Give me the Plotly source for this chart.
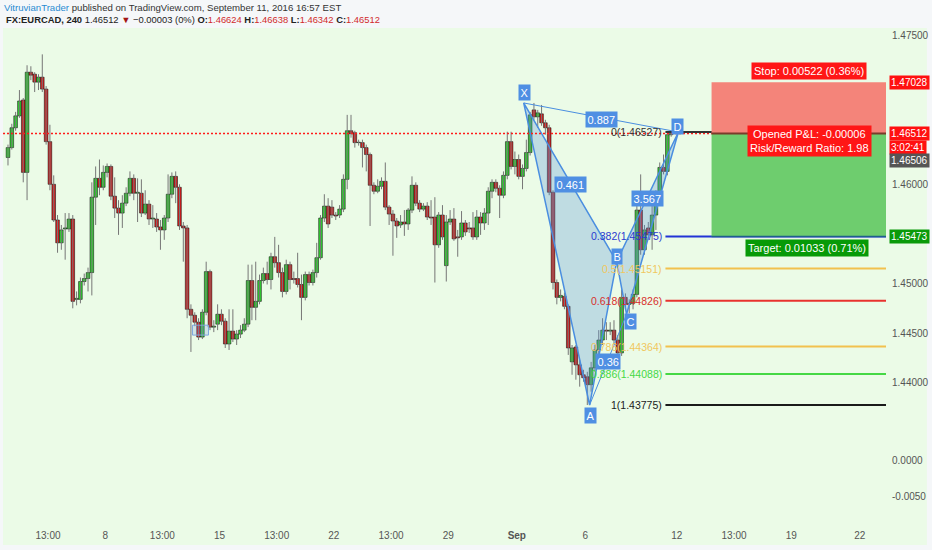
import plotly.graph_objects as go

# ---------------- data (EURCAD 240 min candles) ----------------
bar_open = [1.4627, 1.4637, 1.4657, 1.4669, 1.4685, 1.4612, 1.4713, 1.4711, 1.4703, 1.4708,
            1.4696, 1.4643, 1.4600, 1.4564, 1.4541, 1.4555, 1.4555, 1.4565, 1.4484, 1.4484,
            1.4502, 1.4505, 1.4511, 1.4587, 1.4606, 1.4597, 1.4612, 1.4618, 1.4588, 1.4576,
            1.4571, 1.4581, 1.4591, 1.4606, 1.4591, 1.4591, 1.4571, 1.4580, 1.4565, 1.4565,
            1.4557, 1.4554, 1.4566, 1.4590, 1.4608, 1.4597, 1.4558, 1.4556, 1.4474, 1.4468,
            1.4461, 1.4446, 1.4471, 1.4512, 1.4456, 1.4459, 1.4469, 1.4462, 1.4439, 1.4452,
            1.4444, 1.4449, 1.4453, 1.4459, 1.4503, 1.4476, 1.4482, 1.4503, 1.4510, 1.4504,
            1.4527, 1.4521, 1.4511, 1.4492, 1.4519, 1.4505, 1.4505, 1.4499, 1.4486, 1.4509,
            1.4501, 1.4511, 1.4526, 1.4566, 1.4578, 1.4577, 1.4569, 1.4569, 1.4575, 1.4605,
            1.4654, 1.4652, 1.4642, 1.4642, 1.4637, 1.4630, 1.4599, 1.4593, 1.4598, 1.4603,
            1.4577, 1.4570, 1.4563, 1.4559, 1.4562, 1.4560, 1.4574, 1.4599, 1.4581, 1.4575,
            1.4578, 1.4567, 1.4567, 1.4539, 1.4569, 1.4518, 1.4562, 1.4565, 1.4547, 1.4547,
            1.4561, 1.4556, 1.4556, 1.4547, 1.4567, 1.4561, 1.4571, 1.4593, 1.4602, 1.4596,
            1.4589, 1.4609, 1.4643, 1.4618, 1.4625, 1.4608, 1.4616, 1.4632, 1.4675, 1.4668,
            1.4671, 1.4662, 1.4657, 1.4592, 1.4501, 1.4486, 1.4487, 1.4477, 1.4421, 1.4436,
            1.4418, 1.4408, 1.4406, 1.4398, 1.4415, 1.4433, 1.4443, 1.4453, 1.4452, 1.4453,
            1.4443, 1.4430, 1.4486, 1.4479, 1.4480, 1.4489, 1.4574, 1.4534, 1.4556, 1.4549,
            1.4569, 1.4589, 1.4617, 1.4613, 1.4650]
bar_high = [1.4640, 1.4661, 1.4673, 1.4695, 1.4687, 1.4720, 1.4719, 1.4713, 1.4711, 1.4731,
            1.4699, 1.4660, 1.4609, 1.4569, 1.4559, 1.4571, 1.4571, 1.4569, 1.4492, 1.4506,
            1.4510, 1.4516, 1.4602, 1.4618, 1.4625, 1.4619, 1.4621, 1.4620, 1.4607, 1.4584,
            1.4589, 1.4597, 1.4613, 1.4610, 1.4606, 1.4605, 1.4594, 1.4584, 1.4579, 1.4571,
            1.4564, 1.4569, 1.4610, 1.4612, 1.4613, 1.4600, 1.4562, 1.4559, 1.4479, 1.4471,
            1.4465, 1.4474, 1.4522, 1.4514, 1.4463, 1.4479, 1.4474, 1.4465, 1.4474, 1.4474,
            1.4453, 1.4458, 1.4465, 1.4519, 1.4519, 1.4522, 1.4509, 1.4516, 1.4522, 1.4531,
            1.4547, 1.4539, 1.4516, 1.4524, 1.4522, 1.4512, 1.4531, 1.4509, 1.4512, 1.4512,
            1.4514, 1.4541, 1.4569, 1.4590, 1.4586, 1.4584, 1.4572, 1.4579, 1.4610, 1.4670,
            1.4670, 1.4654, 1.4645, 1.4645, 1.4640, 1.4632, 1.4602, 1.4605, 1.4607, 1.4622,
            1.4579, 1.4574, 1.4566, 1.4569, 1.4574, 1.4576, 1.4608, 1.4602, 1.4584, 1.4581,
            1.4582, 1.4584, 1.4587, 1.4572, 1.4579, 1.4569, 1.4574, 1.4576, 1.4554, 1.4573,
            1.4564, 1.4562, 1.4572, 1.4574, 1.4572, 1.4576, 1.4597, 1.4605, 1.4605, 1.4599,
            1.4613, 1.4653, 1.4653, 1.4633, 1.4630, 1.4620, 1.4645, 1.4673, 1.4682, 1.4675,
            1.4680, 1.4665, 1.4660, 1.4594, 1.4504, 1.4494, 1.4491, 1.4479, 1.4438, 1.4438,
            1.4423, 1.4413, 1.4411, 1.4421, 1.4438, 1.4453, 1.4465, 1.4461, 1.4461, 1.4463,
            1.4448, 1.4494, 1.4490, 1.4484, 1.4494, 1.4579, 1.4610, 1.4559, 1.4562, 1.4579,
            1.4594, 1.4622, 1.4630, 1.46527, 1.4652]
bar_low = [1.4619, 1.4635, 1.4654, 1.4667, 1.4602, 1.4584, 1.4705, 1.4693, 1.4695, 1.4693,
           1.4640, 1.4594, 1.4562, 1.4531, 1.4534, 1.4524, 1.4552, 1.4475, 1.4478, 1.4480,
           1.4498, 1.4492, 1.4488, 1.4559, 1.4589, 1.4594, 1.4607, 1.4584, 1.4566, 1.4549,
           1.4556, 1.4578, 1.4588, 1.4584, 1.4562, 1.4567, 1.4569, 1.4559, 1.4556, 1.4552,
           1.4534, 1.4544, 1.4562, 1.4586, 1.4581, 1.4554, 1.4522, 1.4465, 1.4431, 1.4457,
           1.4443, 1.4444, 1.4468, 1.4453, 1.4451, 1.4453, 1.4458, 1.4435, 1.4433, 1.4441,
           1.4438, 1.4445, 1.4451, 1.4456, 1.4463, 1.4463, 1.4479, 1.4500, 1.4499, 1.4494,
           1.4516, 1.4506, 1.4486, 1.4489, 1.4494, 1.4500, 1.4496, 1.4463, 1.4483, 1.4498,
           1.4498, 1.4506, 1.4524, 1.4562, 1.4556, 1.4566, 1.4564, 1.4566, 1.4572, 1.4595,
           1.4647, 1.4637, 1.4639, 1.4617, 1.4613, 1.4558, 1.4590, 1.4591, 1.4595, 1.4574,
           1.4559, 1.4528, 1.4546, 1.4556, 1.4548, 1.4554, 1.4571, 1.4578, 1.4572, 1.4573,
           1.4564, 1.4559, 1.4501, 1.4536, 1.4544, 1.4502, 1.4559, 1.4543, 1.4527, 1.4544,
           1.4548, 1.4551, 1.4544, 1.4544, 1.4549, 1.4554, 1.4559, 1.4586, 1.4592, 1.4566,
           1.4586, 1.4605, 1.4615, 1.4610, 1.4605, 1.4595, 1.4613, 1.4629, 1.4665, 1.4657,
           1.4659, 1.4650, 1.4589, 1.4494, 1.4479, 1.4482, 1.4474, 1.4428, 1.4408, 1.4403,
           1.4396, 1.4401, 1.43775, 1.4391, 1.4411, 1.4428, 1.4438, 1.4443, 1.4448, 1.4438,
           1.4425, 1.4427, 1.4474, 1.4470, 1.4474, 1.4486, 1.4529, 1.4529, 1.4544, 1.4534,
           1.4554, 1.4586, 1.4610, 1.4609, 1.4648]
bar_close = [1.4637, 1.4657, 1.4669, 1.4684, 1.4612, 1.4713, 1.4710, 1.4703, 1.4708, 1.4696,
             1.4643, 1.4600, 1.4564, 1.4541, 1.4554, 1.4556, 1.4565, 1.4482, 1.4485, 1.4502,
             1.4505, 1.4511, 1.4587, 1.4606, 1.4597, 1.4612, 1.4618, 1.4588, 1.4576, 1.4571,
             1.4581, 1.4591, 1.4606, 1.4591, 1.4592, 1.4571, 1.4580, 1.4565, 1.4566, 1.4557,
             1.4554, 1.4566, 1.4590, 1.4608, 1.4597, 1.4558, 1.4556, 1.4474, 1.4468, 1.4461,
             1.4446, 1.4471, 1.4512, 1.4456, 1.4457, 1.4469, 1.4462, 1.4439, 1.4452, 1.4444,
             1.4449, 1.4453, 1.4459, 1.4503, 1.4476, 1.4482, 1.4503, 1.4510, 1.4504, 1.4527,
             1.4521, 1.4511, 1.4492, 1.4519, 1.4504, 1.4504, 1.4499, 1.4486, 1.4509, 1.4501,
             1.4511, 1.4526, 1.4566, 1.4578, 1.4560, 1.4569, 1.4568, 1.4575, 1.4605, 1.4654,
             1.4651, 1.4642, 1.4642, 1.4637, 1.4630, 1.4599, 1.4593, 1.4598, 1.4603, 1.4577,
             1.4570, 1.4563, 1.4558, 1.4562, 1.4560, 1.4574, 1.4599, 1.4581, 1.4575, 1.4578,
             1.4567, 1.4566, 1.4539, 1.4569, 1.4547, 1.4562, 1.4565, 1.4545, 1.4546, 1.4561,
             1.4552, 1.4555, 1.4547, 1.4567, 1.4561, 1.4571, 1.4593, 1.4602, 1.4596, 1.4589,
             1.4609, 1.4643, 1.4618, 1.4625, 1.4608, 1.4616, 1.4632, 1.4670, 1.4668, 1.4672,
             1.4662, 1.4657, 1.4592, 1.4501, 1.4486, 1.4488, 1.4477, 1.4435, 1.4435, 1.4418,
             1.4408, 1.4405, 1.4398, 1.4415, 1.4433, 1.4443, 1.4453, 1.4452, 1.4453, 1.4443,
             1.4430, 1.4486, 1.4479, 1.4480, 1.4489, 1.4574, 1.4534, 1.4554, 1.4549, 1.4569,
             1.4589, 1.4617, 1.4613, 1.4650, 1.46512]

time_tick_pos = [10.5, 25.5, 40.5, 55.5, 70.5, 85.5, 100.5, 115.5, 133.5, 151.5, 175.5, 190.5, 205.5, 223.5]
time_tick_text = ["13:00", "8", "13:00", "15", "13:00", "22", "13:00", "29", "<b>Sep</b>", "6", "12", "13:00", "19", "22"]

price_tick_vals = [1.475, 1.460, 1.450, 1.445, 1.440]
price_tick_text = ["1.47500", "1.46000", "1.45000", "1.44500", "1.44000"]
osc_tick_vals = [1.43211, 1.42848]
osc_tick_text = ["0.0000", "-0.0050"]

pattern_names = ["X", "A", "B", "C", "D"]
pattern_bar = [135.3, 152.6, 159.7, 162.3, 175.9]
pattern_price = [1.4682, 1.43775, 1.4522, 1.4469, 1.46527]
ratio_pairs = [("X", "B", "0.461"), ("A", "C", "0.36"), ("B", "D", "3.567"), ("X", "D", "0.887")]

fib_ratio = ["0", "0.382", "0.5", "0.618", "0.786", "0.886", "1"]
fib_price = [1.46527, 1.45475, 1.45151, 1.44826, 1.44364, 1.44088, 1.43775]
fib_line_color = ["#333333", "#2234d6", "#f2c14e", "#e8322e", "#f2c14e", "#45d845", "#1a1a1a"]
fib_text_color = ["#333333", "#2a3ad0", "#f0c75e", "#d8302c", "#f0c75e", "#45d845", "#1a1a1a"]
fib_start_bar = 172.5

last_price = 1.46512
entry_price = 1.46506
stop_price = 1.47028
target_price = 1.45473
position_start_bar = 184.6
countdown_text = "3:02:41"

# ---------------- layout constants ----------------
X_RANGE = [-1.31, 230.37]
Y_RANGE = [1.425958, 1.475756]
GREEN_BG = "#ebfbe7"
UP = "#2fd62f"
DOWN = "#d81c1c"

fig = go.Figure()

# wicks
wx, wy = [], []
for i, (h, l) in enumerate(zip(bar_high, bar_low)):
    wx += [i, i, None]
    wy += [l, h, None]
fig.add_trace(go.Scatter(x=wx, y=wy, mode="lines", line=dict(color="#767676", width=1),
                         hoverinfo="skip", showlegend=False))

# bodies
min_h = 0.00004
body_base = [min(o, c) for o, c in zip(bar_open, bar_close)]
body_h = [max(abs(c - o), min_h) for o, c in zip(bar_open, bar_close)]
body_col = [UP if c >= o else DOWN for o, c in zip(bar_open, bar_close)]
fig.add_trace(go.Bar(x=list(range(len(bar_open))), y=body_h, base=body_base, width=0.95,
                     marker=dict(color=body_col, line=dict(color="#1a1a1a", width=0.6)),
                     hoverinfo="skip", showlegend=False))

pt = {n: (b, p) for n, b, p in zip(pattern_names, pattern_bar, pattern_price)}

shapes = []
annotations = []

# background panel
shapes.append(dict(type="rect", xref="paper", yref="paper", x0=0, x1=1.0463, y0=-0.0466, y1=1.0,
                   fillcolor=GREEN_BG, line=dict(width=0), layer="below"))

# last price dotted line
shapes.append(dict(type="line", xref="paper", yref="y", x0=0, x1=1, y0=last_price, y1=last_price,
                   line=dict(color="#ff1a1a", width=1.3, dash="2px,2px")))

# fib lines
for fp, fc in zip(fib_price, fib_line_color):
    shapes.append(dict(type="line", xref="x", yref="y", x0=fib_start_bar, x1=X_RANGE[1], y0=fp, y1=fp,
                       line=dict(color=fc, width=2)))
for fr, fp, tc in zip(fib_ratio, fib_price, fib_text_color):
    annotations.append(dict(x=fib_start_bar, y=fp, xref="x", yref="y", text=f"{fr}({fp:.5f})",
                            showarrow=False, xanchor="right", yanchor="middle", xshift=-1,
                            font=dict(size=10.5, color=tc)))

# position box (short)
shapes.append(dict(type="rect", xref="x", yref="y", x0=position_start_bar, x1=X_RANGE[1],
                   y0=entry_price, y1=stop_price, fillcolor="#f4847a", line=dict(width=0)))
shapes.append(dict(type="rect", xref="x", yref="y", x0=position_start_bar, x1=X_RANGE[1],
                   y0=target_price, y1=entry_price, fillcolor="#6ecd6e", line=dict(width=0)))
shapes.append(dict(type="line", xref="x", yref="y", x0=position_start_bar, x1=X_RANGE[1],
                   y0=last_price, y1=last_price, line=dict(color="#7a3b2a", width=2)))
shapes.append(dict(type="line", xref="x", yref="y", x0=position_start_bar, x1=X_RANGE[1],
                   y0=target_price, y1=target_price, line=dict(color="#1f5f8a", width=1.5)))

box_mid = (position_start_bar + X_RANGE[1]) / 2
annotations.append(dict(x=box_mid, y=stop_price, xref="x", yref="y", xshift=10,
                        text=f"Stop: {stop_price - entry_price:.5f} (0.36%)", showarrow=False,
                        yanchor="bottom", yshift=2, bgcolor="#ff1616", borderpad=2,
                        font=dict(size=11, color="white")))
annotations.append(dict(x=box_mid, y=target_price, xref="x", yref="y", xshift=8,
                        text=f"Target: {entry_price - target_price:.5f} (0.71%)", showarrow=False,
                        yanchor="top", yshift=-2, bgcolor="#079a07", borderpad=2,
                        font=dict(size=11, color="white")))
annotations.append(dict(x=box_mid, y=entry_price, xref="x", yref="y", xshift=11,
                        text=f"Opened P&L: {entry_price - last_price:.5f}<br>Risk/Reward Ratio: 1.98",
                        showarrow=False, yanchor="middle", yshift=-7, bgcolor="#ff1616", borderpad=2,
                        font=dict(size=11, color="white")))

# small blue rectangle drawing
shapes.append(dict(type="rect", xref="x", yref="y", x0=48.4, x1=52.6, y0=1.4448, y1=1.4458,
                   fillcolor="rgba(120,160,225,0.25)", line=dict(color="#7ea6e0", width=1)))

fig.update_layout(shapes=shapes)

# harmonic pattern triangles
PAT_LINE = "#4a8ee0"
PAT_FILL = "rgba(90,150,215,0.3)"
for tri in (("X", "A", "B"), ("B", "C", "D")):
    xs = [pt[n][0] for n in tri] + [pt[tri[0]][0]]
    ys = [pt[n][1] for n in tri] + [pt[tri[0]][1]]
    fig.add_trace(go.Scatter(x=xs, y=ys, mode="lines", fill="toself", fillcolor=PAT_FILL,
                             line=dict(color=PAT_LINE, width=1.5), hoverinfo="skip", showlegend=False))
for a, b, _ in ratio_pairs:
    if (a, b) in (("A", "C"), ("X", "D")):
        fig.add_trace(go.Scatter(x=[pt[a][0], pt[b][0]], y=[pt[a][1], pt[b][1]], mode="lines",
                                 line=dict(color=PAT_LINE, width=1), hoverinfo="skip", showlegend=False))

label_box = dict(showarrow=False, bgcolor="#4f8fe3", borderpad=1.5, font=dict(size=11, color="white"))
for a, b, txt in ratio_pairs:
    annotations.append(dict(x=(pt[a][0] + pt[b][0]) / 2, y=(pt[a][1] + pt[b][1]) / 2, xref="x", yref="y",
                            text=txt, yshift=-2, **label_box))
pt_shift = {"X": (1, 10), "A": (1, -10), "B": (0, 5), "C": (4, -7), "D": (-1, 6)}
for n in pattern_names:
    annotations.append(dict(x=pt[n][0], y=pt[n][1], xref="x", yref="y", text=n,
                            xshift=pt_shift[n][0], yshift=pt_shift[n][1], **label_box))

# right-axis price tags
tags = [(stop_price, f"{stop_price:.5f}", "#ff1010"),
        (last_price, f"{last_price:.5f}", "#ff1010"),
        (1.46376, countdown_text, "#ff1010"),
        (1.46235, f"{entry_price:.5f}", "#555555"),
        (target_price, f"{target_price:.5f}", "#0a9a0a")]
for y, txt, col in tags:
    annotations.append(dict(x=1, y=y, xref="paper", yref="y", text=txt, showarrow=False,
                            xanchor="left", xshift=3, bgcolor=col, borderpad=1,
                            font=dict(size=10, color="white")))

# header
annotations.append(dict(x=0, y=1.0405, xref="paper", yref="paper", xanchor="left", yanchor="middle",
                        showarrow=False, xshift=-1,
                        text="<span style='color:#2a8cd2'>VitruvianTrader</span> published on TradingView.com, September 11, 2016 16:57 EST",
                        font=dict(size=9.6, color="#333333")))
annotations.append(dict(x=0, y=1.0162, xref="paper", yref="paper", xanchor="left", yanchor="middle",
                        showarrow=False, xshift=1,
                        text=("<b>FX:EURCAD, 240</b> 1.46512 <span style='color:#a31515'>▼</span> −0.00003 (0%) "
                              "<b>O:</b><span style='color:#d12b2b'>1.46624</span> "
                              "<b>H:</b><span style='color:#d12b2b'>1.46638</span> "
                              "<b>L:</b><span style='color:#d12b2b'>1.46342</span> "
                              "<b>C:</b><span style='color:#d12b2b'>1.46512</span>"),
                        font=dict(size=9.4, color="#222222")))

fig.update_layout(
    width=932, height=550,
    margin=dict(l=3, r=44, t=28, b=28),
    paper_bgcolor="#f5f7f9",
    plot_bgcolor="rgba(0,0,0,0)",
    barmode="overlay",
    showlegend=False,
    font=dict(family="Liberation Sans, Arial, sans-serif", size=10, color="#555555"),
    annotations=annotations,
    xaxis=dict(range=X_RANGE, showgrid=False, zeroline=False, showline=False,
               tickmode="array", tickvals=time_tick_pos, ticktext=time_tick_text,
               ticks="", tickfont=dict(size=10, color="#555555"), ticklabelstandoff=6, fixedrange=True),
    yaxis=dict(range=Y_RANGE, side="right", showgrid=False, zeroline=False, showline=False,
               tickmode="array", tickvals=price_tick_vals + osc_tick_vals,
               ticktext=price_tick_text + osc_tick_text,
               ticks="", tickfont=dict(size=10, color="#555555"), ticklabelstandoff=5, fixedrange=True),
)

fig.write_html("out.html", config={"displayModeBar": False},
               post_script="document.body.style.margin='0';document.body.style.overflow='hidden';")
